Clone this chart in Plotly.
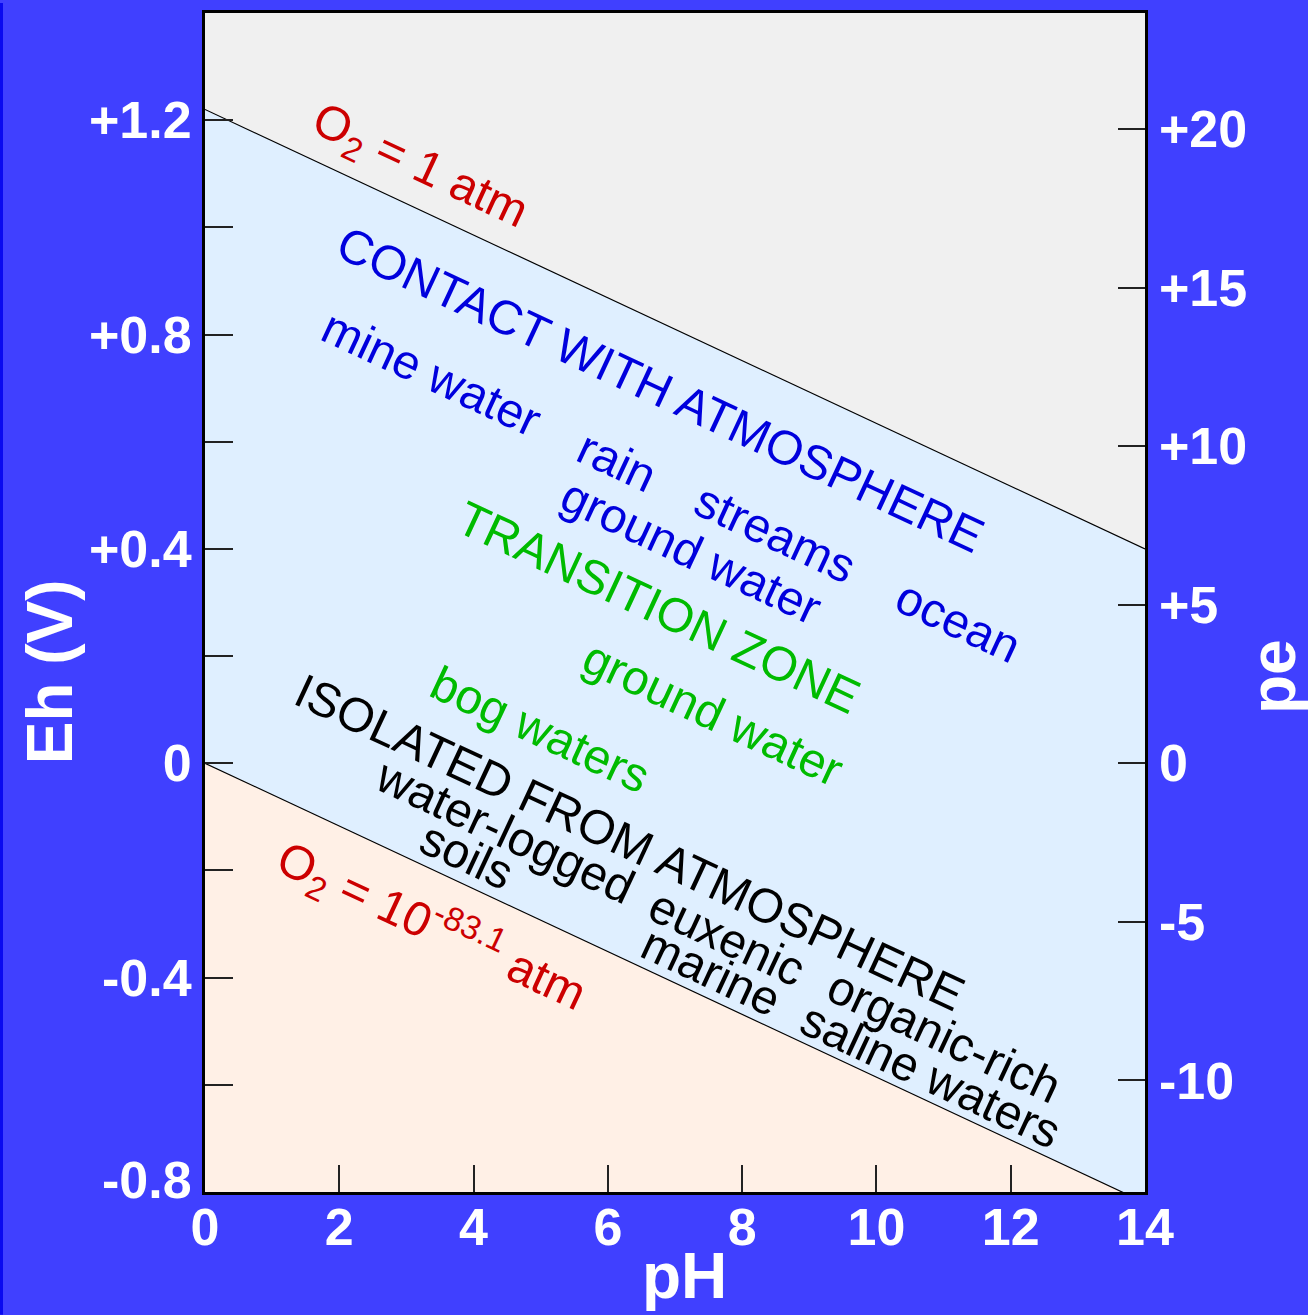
import plotly.graph_objects as go

# Stability field of water in Eh–pH space
ph_range = [0, 14]
eh_range = [-0.8, 1.4]
PE_PER_VOLT = 1 / 0.05916          # pe = Eh / 0.05916 at 25 °C

# O2 = 1 atm boundary (upper) and O2 = 10^-83.1 atm boundary (lower)
boundary_ph = [0, 14]
eh_upper = [1.22, 0.40]
eh_lower = [0.00, -0.82]

# Axis ticks
ph_ticks = [0, 2, 4, 6, 8, 10, 12, 14]
eh_ticks = [-0.8, -0.6, -0.4, -0.2, 0.0, 0.2, 0.4, 0.6, 0.8, 1.0, 1.2]
eh_tick_text = ["", "", "-0.4", "", "0", "", "+0.4", "", "+0.8", "", "+1.2"]
eh_corner_label = "-0.8"           # bottom label, lifted clear of the corner
pe_ticks = [-10, -5, 0, 5, 10, 15, 20]
pe_tick_text = ["-10", "-5", "0", "+5", "+10", "+15", "+20"]

# Environment labels: text, pH, Eh, colour
RED, BLUE, GREEN, BLACK = "#CC0000", "#0000DD", "#00BB00", "#000000"
labels = [
    ("O<sub>2</sub> = 1 atm", 3.20, 1.111, RED),
    ("CONTACT WITH ATMOSPHERE", 6.78, 0.697, BLUE),
    ("mine water", 3.38, 0.727, BLUE),
    ("rain", 6.14, 0.563, BLUE),
    ("streams", 8.50, 0.429, BLUE),
    ("ground water", 7.24, 0.395, BLUE),
    ("ocean", 11.22, 0.265, BLUE),
    ("TRANSITION ZONE", 6.76, 0.291, GREEN),
    ("ground water", 7.57, 0.093, GREEN),
    ("bog waters", 4.99, 0.063, GREEN),
    ("ISOLATED FROM ATMOSPHERE", 6.33, -0.147, BLACK),
    ("water-logged", 4.48, -0.127, BLACK),
    ("soils", 3.90, -0.172, BLACK),
    ("euxenic", 7.77, -0.326, BLACK),
    ("marine", 7.54, -0.388, BLACK),
    ("organic-rich", 11.02, -0.509, BLACK),
    ("saline waters", 10.81, -0.582, BLACK),
    ("O<sub>2</sub> = 10<sup>-83.1</sup> atm", 3.38, -0.302, RED),
]
LABEL_ANGLE = 25

BG = "#4040FF"
FONT = "Arial, Liberation Sans, sans-serif"

fig = go.Figure()

# Region above the upper boundary (O2 > 1 atm)
fig.add_trace(go.Scatter(
    x=[boundary_ph[0], boundary_ph[0], boundary_ph[1], boundary_ph[1]],
    y=[eh_range[1] + 0.1, eh_upper[0], eh_upper[1], eh_range[1] + 0.1],
    fill="toself", fillcolor="#F0F0F0", mode="lines", line=dict(width=0),
    hoverinfo="skip", showlegend=False))

# Region below the lower boundary
fig.add_trace(go.Scatter(
    x=[boundary_ph[0], boundary_ph[1], boundary_ph[1], boundary_ph[0]],
    y=[eh_lower[0], eh_lower[1], eh_range[0] - 0.1, eh_range[0] - 0.1],
    fill="toself", fillcolor="#FFF0E6", mode="lines", line=dict(width=0),
    hoverinfo="skip", showlegend=False))

# Boundary lines
for eh in (eh_upper, eh_lower):
    fig.add_trace(go.Scatter(
        x=boundary_ph, y=eh, mode="lines",
        line=dict(color="#000000", width=1.2),
        hoverinfo="skip", showlegend=False))

# Anchor trace for the pe axis
fig.add_trace(go.Scatter(x=[], y=[], yaxis="y2", showlegend=False))

tick_font = dict(family=FONT, size=52, color="white", weight="bold")

annotations = []
for text, ph, eh, color in labels:
    annotations.append(dict(
        x=ph, y=eh, xref="x", yref="y", text=text, showarrow=False,
        textangle=LABEL_ANGLE, xanchor="center", yanchor="middle",
        font=dict(family=FONT, size=48, color=color)))

title_font = dict(family=FONT, size=64, color="white", weight="bold")
annotations += [
    dict(x=-0.165, y=0.4416, xref="paper", yref="paper", text="Eh (V)",
         showarrow=False, textangle=-90, font=title_font,
         xanchor="center", yanchor="middle"),
    dict(x=1.137, y=0.4374, xref="paper", yref="paper", text="pe",
         showarrow=False, textangle=-90, font=title_font,
         xanchor="center", yanchor="middle"),
    dict(x=0.5106, y=-0.071, xref="paper", yref="paper", text="pH",
         showarrow=False, font=title_font,
         xanchor="center", yanchor="middle"),
    dict(x=0, y=eh_range[0], xref="paper", yref="y", text=eh_corner_label,
         showarrow=False, font=tick_font, xanchor="right", yanchor="middle",
         xshift=-11, yshift=12),
]

fig.update_layout(
    width=1308, height=1315,
    margin=dict(l=205, r=163, t=10, b=123),
    paper_bgcolor=BG,
    plot_bgcolor="#DFEFFF",
    showlegend=False,
    xaxis=dict(
        range=ph_range, tickvals=ph_ticks, ticktext=[str(v) for v in ph_ticks],
        ticks="inside", ticklen=27, tickwidth=1.5, tickcolor="#222222",
        showline=True, linewidth=3, linecolor="#000000", mirror=True,
        showgrid=False, zeroline=False, tickfont=tick_font,
        ticklabelstandoff=-12),
    yaxis=dict(
        range=eh_range, tickvals=eh_ticks, ticktext=eh_tick_text,
        ticks="inside", ticklen=28, tickwidth=1.5, tickcolor="#222222",
        showline=True, linewidth=3, linecolor="#000000", mirror=True,
        showgrid=False, zeroline=False, tickfont=tick_font,
        ticklabelstandoff=0),
    yaxis2=dict(
        overlaying="y", side="right",
        range=[eh_range[0] * PE_PER_VOLT, eh_range[1] * PE_PER_VOLT],
        tickvals=pe_ticks, ticktext=pe_tick_text,
        ticks="inside", ticklen=27, tickwidth=1.5, tickcolor="#222222",
        showline=False, showgrid=False, zeroline=False, tickfont=tick_font,
        ticklabelstandoff=13),
    annotations=annotations,
    shapes=[dict(type="rect", xref="paper", yref="paper",
                 x0=-205 / 940, x1=-202 / 940, y0=-123 / 1182, y1=1 + 10 / 1182,
                 fillcolor="#0A0AF0", line=dict(width=0), layer="below")],
)

fig.write_html("out.html")
